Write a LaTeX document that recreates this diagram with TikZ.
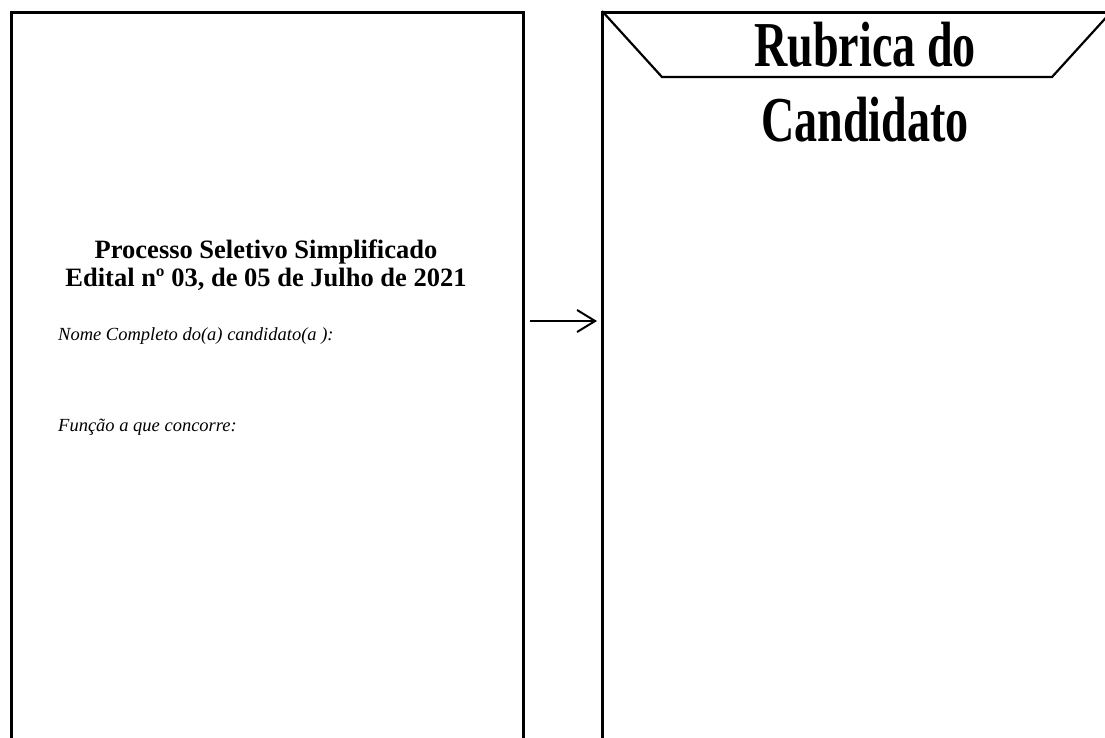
\documentclass[tikz,border=0pt]{standalone}
\usepackage{fontspec}
\usepackage{graphicx}
\setmainfont{Liberation Serif}
\usetikzlibrary{arrows.meta}
\begin{document}
\begin{tikzpicture}[x=1pt,y=-1pt,
  frame/.style={draw=black,line width=2.6pt,rectangle,inner sep=0pt,anchor=north west},
  headtxt/.style={font=\fontsize{26.5}{26.5}\selectfont\bfseries,anchor=base,inner sep=0pt},
  fieldtxt/.style={font=\fontsize{18.5}{18.5}\selectfont\itshape,anchor=base west,inner sep=0pt},
  bigtxt/.style={font=\fontsize{64}{64}\selectfont\bfseries,anchor=base,inner sep=0pt},
  conn/.style={line width=2pt,-{Straight Barb[length=18pt,width=22pt,line width=2pt]}}]
\useasboundingbox (0,0) rectangle (1105,737);
\clip (0,0) rectangle (1105,737);
% frames
\node[frame,minimum width=512pt,minimum height=780pt] (leftbox) at (10,11) {};
\node[frame,minimum width=540pt,minimum height=780pt] (rightbox) at (601,11) {};
% header trapezoid
\coordinate (t1) at (602,11);
\coordinate (t2) at (662,77);
\coordinate (t3) at (1052,77);
\coordinate (t4) at (1112,11);
\draw[line width=2.2pt] (t1) -- (t2) -- (t3) -- (t4);
% left texts
\node[headtxt] (h1) at (266,258) {Processo Seletivo Simplificado};
\node[headtxt] (h2) at (266,286) {Edital nº 03, de 05 de Julho de 2021};
\node[fieldtxt] (f1) at (58,340) {Nome Completo do(a) candidato(a ):};
\node[fieldtxt] (f2) at (58,431) {Função a que concorre:};
% right title
\node[bigtxt] (r1) at (865,66) {\scalebox{0.72}[1]{Rubrica do}};
\node[bigtxt] (r2) at (865,141) {\scalebox{0.72}[1]{Candidato}};
% arrow
\coordinate (a1) at (530,321);
\coordinate (a2) at (597,321);
\draw[conn] (a1) -- (a2);
\end{tikzpicture}
\end{document}
